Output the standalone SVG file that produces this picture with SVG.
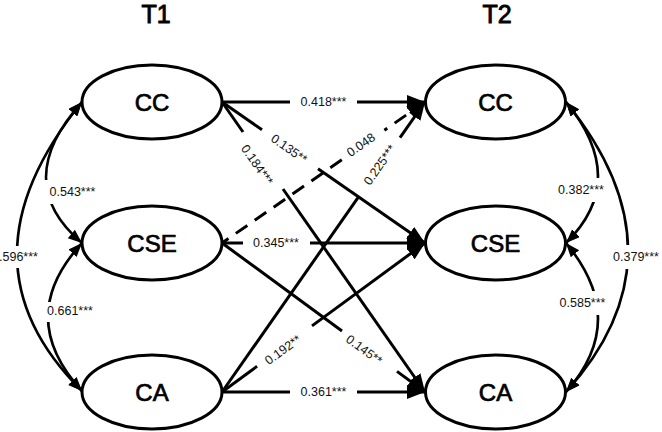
<svg xmlns="http://www.w3.org/2000/svg" width="662" height="432" viewBox="0 0 662 432">
<defs>
<style>
.node{fill:#fff;stroke:#000;stroke-width:3}
.nt{font-family:"Liberation Sans",Arial,sans-serif;font-size:24px;text-anchor:middle;fill:#000;stroke:#000;stroke-width:0.7}
.title{font-family:"Liberation Sans",Arial,sans-serif;font-size:25px;text-anchor:middle;fill:#000;stroke:#000;stroke-width:0.9}
.ln{fill:none;stroke:#000;stroke-width:3}
.dash{stroke-dasharray:14 9}
.arc{fill:none;stroke:#000;stroke-width:2.6}
.lb{font-family:"Liberation Sans",Arial,sans-serif;font-size:12.5px;text-anchor:middle;fill:#111}
.bg{fill:#fff}
</style>
<marker id="ah" markerUnits="userSpaceOnUse" markerWidth="20" markerHeight="16" refX="18" refY="7" orient="auto"><path d="M0,0 L18,7 L0,14 z" fill="#000"/></marker>
<marker id="ahr" markerUnits="userSpaceOnUse" markerWidth="20" markerHeight="16" refX="18" refY="7" orient="auto-start-reverse"><path d="M0,0 L18,7 L0,14 z" fill="#000"/></marker>
<marker id="as" markerUnits="userSpaceOnUse" markerWidth="16" markerHeight="12" refX="14" refY="5.5" orient="auto-start-reverse"><path d="M0,0 L14,5.5 L0,11 z" fill="#000"/></marker>
</defs>
<rect width="662" height="432" fill="#fff"/>
<text class="title" x="156" y="23">T1</text>
<text class="title" x="497" y="23">T2</text>
<g id="connectors">
<path class="ln" d="M222,102 H290"/><path class="ln" d="M357,102 H425" marker-end="url(#ah)"/>
<path class="ln" d="M222,102 L262,129.8"/><path class="ln" d="M318,168.7 L425,243" marker-end="url(#ah)"/>
<path class="ln" d="M222,102 L243,132"/><path class="ln" d="M283,189 L425,392" marker-end="url(#ah)"/>
<path class="ln dash" d="M425,102 L384.4,130.2" marker-start="url(#ahr)"/><path class="ln dash" d="M341.8,159.8 L222,243"/>
<path class="ln" d="M222,243 H243"/><path class="ln" d="M310,243 H425" marker-end="url(#ah)"/>
<path class="ln" d="M222,243 L342,331"/><path class="ln" d="M397,371.4 L425,392" marker-end="url(#ah)"/>
<path class="ln" d="M222,392 L358,197.7"/><path class="ln" d="M400,137.7 L425,102" marker-end="url(#ah)"/>
<path class="ln" d="M222,392 L257,366.3"/><path class="ln" d="M312,325.9 L425,243" marker-end="url(#ah)"/>
<path class="ln" d="M222,392 H290"/><path class="ln" d="M357,392 H425" marker-end="url(#ah)"/>
<path class="arc" d="M82,102 Q-48,262 82,391" marker-start="url(#as)" marker-end="url(#as)"/>
<path class="arc" d="M82,102 Q10,182 82,243" marker-start="url(#as)" marker-end="url(#as)"/>
<path class="arc" d="M82,243 Q14,317 82,391" marker-start="url(#as)" marker-end="url(#as)"/>
<path class="arc" d="M566,102 Q630,180 566,243" marker-start="url(#as)" marker-end="url(#as)"/>
<path class="arc" d="M566,243 Q630,320 566,392" marker-start="url(#as)" marker-end="url(#as)"/>
<path class="arc" d="M566,102 Q690,255 566,392" marker-start="url(#as)" marker-end="url(#as)"/>
<rect class="bg" x="0" y="246" width="40" height="22"/>
<rect class="bg" x="44" y="180" width="56" height="24"/>
<rect class="bg" x="43" y="302" width="53" height="20"/>
<rect class="bg" x="554" y="178" width="53" height="24"/>
<rect class="bg" x="555" y="291" width="54" height="24"/>
<rect class="bg" x="610" y="245" width="52" height="24"/>
<text class="lb" x="323.5" y="106">0.418***</text>
<text class="lb" transform="translate(289,149) rotate(34.8)" y="4">0.135**</text>
<text class="lb" transform="translate(257,165) rotate(55)" y="4">0.184***</text>
<text class="lb" transform="translate(361,145) rotate(-34.8)" y="4">0.048</text>
<text class="lb" x="276" y="247">0.345***</text>
<text class="lb" transform="translate(364,350) rotate(36.3)" y="4">0.145**</text>
<text class="lb" transform="translate(380,165) rotate(-55)" y="4">0.225***</text>
<text class="lb" transform="translate(283,350) rotate(-36.3)" y="4">0.192**</text>
<text class="lb" x="323.5" y="396">0.361***</text>
<text class="lb" x="15" y="261">0.596***</text>
<text class="lb" x="72.5" y="196">0.543***</text>
<text class="lb" x="70" y="315">0.661***</text>
<text class="lb" x="581" y="194">0.382***</text>
<text class="lb" x="582.5" y="307">0.585***</text>
<text class="lb" x="636" y="261">0.379***</text>
</g>
<g id="T1_CC"><ellipse class="node" cx="152" cy="102" rx="70" ry="37"/><text class="nt" x="152" y="111">CC</text></g>
<g id="T1_CSE"><ellipse class="node" cx="152" cy="243" rx="70" ry="37"/><text class="nt" x="152" y="252">CSE</text></g>
<g id="T1_CA"><ellipse class="node" cx="152" cy="392" rx="70" ry="37"/><text class="nt" x="152" y="401">CA</text></g>
<g id="T2_CC"><ellipse class="node" cx="495.5" cy="102" rx="70" ry="37"/><text class="nt" x="495.5" y="111">CC</text></g>
<g id="T2_CSE"><ellipse class="node" cx="495.5" cy="243" rx="70" ry="37"/><text class="nt" x="495.5" y="252">CSE</text></g>
<g id="T2_CA"><ellipse class="node" cx="495.5" cy="392" rx="70" ry="37"/><text class="nt" x="495.5" y="401">CA</text></g>
</svg>
